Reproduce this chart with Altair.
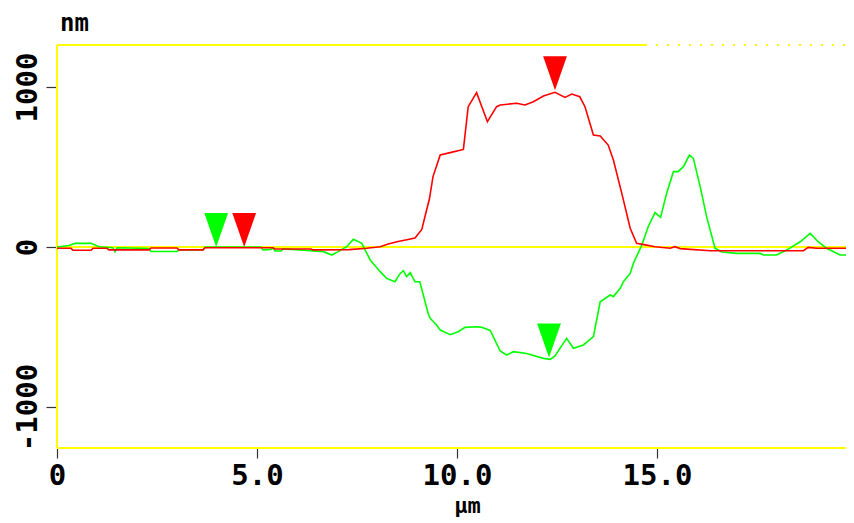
import altair as alt
import pandas as pd

# ---------------- data ----------------
red_x = [0.0, 0.35, 0.4, 0.85, 0.9, 1.25, 1.3, 2.3, 2.35, 3.0, 3.05, 3.65, 3.7, 5.4, 5.45,
         6.35, 6.4, 7.3, 7.74, 8.08, 8.28, 8.5, 8.95, 9.12, 9.24, 9.31, 9.4, 9.58, 9.83,
         10.16, 10.28, 10.49, 10.76, 10.99, 11.08, 11.49, 11.7, 11.91, 12.16, 12.45, 12.7,
         12.87, 13.07, 13.2, 13.41, 13.58, 13.78, 13.91, 14.12, 14.33, 14.49, 14.74, 14.95,
         15.33, 15.45, 15.58, 16.33, 18.66, 18.78, 18.99, 19.74, 19.92]
red_y = [-8, -8, -20, -20, -8, -8, -18, -18, -6, -6, -18, -18, -5, -5, -12,
         -12, -18, -16, -8, 2, 19, 33, 56, 110, 231, 300, 440, 575, 590,
         610, 877, 965, 783, 877, 888, 898, 888, 908, 944, 967, 935,
         956, 939, 877, 700, 694, 637, 544, 335, 117, 23, 12, 2,
         -8, 2, -10, -23, -23, -2, -8, -8, -19]

green_x = [0.0, 0.3, 0.45, 0.85, 1.05, 1.4, 1.45, 1.5, 2.05, 2.3, 2.35, 3.0, 3.05, 3.65,
           3.7, 5.1, 5.15, 5.35, 5.4, 5.45, 5.6, 5.65, 6.07, 6.66, 6.87, 7.03, 7.24, 7.41,
           7.62, 7.83, 8.08, 8.24, 8.45, 8.58, 8.66, 8.74, 8.83, 8.95, 9.07, 9.28, 9.33,
           9.49, 9.58, 9.83, 10.03, 10.2, 10.49, 10.62, 10.83, 11.08, 11.24, 11.41, 11.74,
           12.16, 12.33, 12.45, 12.74, 12.91, 13.16, 13.41, 13.58, 13.83, 13.91, 14.08,
           14.16, 14.33, 14.41, 14.62, 14.78, 14.95, 15.09, 15.24, 15.41, 15.53, 15.66,
           15.81, 15.91, 16.08, 16.24, 16.45, 16.62, 16.99, 17.58, 17.66, 17.99, 18.24,
           18.58, 18.83, 19.03, 19.24, 19.58, 19.92]
green_y = [0, 10, 23, 23, 2, -5, -29, -5, -8, -10, -28, -28, -18, -18,
           0, 0, -18, -15, -5, -25, -25, -12, -19, -29, -50, -29, 2, 48,
           23, -81, -154, -196, -217, -165, -148, -185, -160, -217, -217, -415, -446,
           -487, -519, -548, -529, -502, -498, -502, -521, -650, -675, -654, -665,
           -696, -702, -681, -571, -633, -612, -560, -342, -300, -310, -258,
           -217, -165, -102, 12, 127, 215, 185, 335, 471, 471, 502,
           575, 554, 377, 190, -8, -31, -40, -40, -50, -50, -19,
           33, 85, 33, -8, -50, -50]

marker_x = [3.98, 4.68, 12.45, 12.30]
marker_y = [0, 0, 980, -690]
marker_series = ["green", "red", "red", "green"]

x_ticks = [0, 5, 10, 15]
y_ticks = [-1000, 0, 1000]

X_MAX = 19.725
Y_MIN = -1256
Y_MAX = 1262.5
TOP_SOLID_END = 14.7

# ---------------- tables ----------------
red_df = pd.DataFrame({"x": red_x, "y": red_y})
green_df = pd.DataFrame({"x": green_x, "y": green_y})
marker_df = pd.DataFrame({"x": marker_x, "y": marker_y, "s": marker_series})
hrule_df = pd.DataFrame({"x": [0, 0, 0], "x2": [X_MAX, X_MAX, TOP_SOLID_END],
                         "y": [0, Y_MIN, Y_MAX]})
hdash_df = pd.DataFrame({"x": [TOP_SOLID_END], "x2": [X_MAX], "y": [Y_MAX]})
vrule_df = pd.DataFrame({"x": [0], "y": [Y_MIN], "y2": [Y_MAX]})

FONT = "DejaVu Sans Mono"
YELLOW = "#ffff00"

xscale = alt.Scale(domain=[0, X_MAX], nice=False, zero=False)
yscale = alt.Scale(domain=[Y_MIN, Y_MAX], nice=False, zero=False)

x_axis = alt.Axis(values=x_ticks, domain=False, grid=False, tickColor="#333333",
                  tickSize=10, tickWidth=1.2, labelFont=FONT, labelFontWeight="bold",
                  labelFontSize=29, labelColor="#000000", labelPadding=3,
                  labelFlush=False, labelOverlap=False,
                  labelExpr="datum.value == 0 ? '0' : format(datum.value, '.1f')",
                  title="µm", titleFont=FONT, titleFontWeight="bold", titleFontSize=22,
                  titleColor="#000000", titleX=410, titleY=64, titleAlign="center",
                  titleBaseline="alphabetic")
y_axis = alt.Axis(values=y_ticks, domain=False, grid=False, tickColor="#333333",
                  tickSize=11, tickWidth=1.2, labelFont=FONT, labelFontWeight="bold",
                  labelFontSize=29, labelColor="#000000", labelPadding=10,
                  labelAngle=270, labelAlign="center", labelBaseline="alphabetic",
                  labelOverlap=False, labelFlush=False,
                  labelExpr="datum.value < 0 ? '-' + abs(datum.value) : '' + datum.value",
                  title="nm", titleFont=FONT, titleFontWeight="bold", titleFontSize=24,
                  titleColor="#000000", titleAngle=0, titleX=17, titleY=-15,
                  titleAlign="center", titleBaseline="alphabetic")

X = alt.X("x:Q", scale=xscale, axis=x_axis)
Y = alt.Y("y:Q", scale=yscale, axis=y_axis)

hrules = alt.Chart(hrule_df).mark_rule(color=YELLOW, strokeWidth=2).encode(
    x=X, x2="x2:Q", y=Y)
hdash = alt.Chart(hdash_df).mark_rule(color=YELLOW, strokeWidth=2,
                                      strokeDash=[2, 9]).encode(x=X, x2="x2:Q", y=Y)
vrule = alt.Chart(vrule_df).mark_rule(color=YELLOW, strokeWidth=2).encode(
    x=X, y=Y, y2="y2:Q")

green_line = alt.Chart(green_df).mark_line(color="#00ff00", strokeWidth=1.6,
                                           clip=True).encode(x=X, y=Y)
red_line = alt.Chart(red_df).mark_line(color="#ff0000", strokeWidth=1.6,
                                       clip=True).encode(x=X, y=Y)

markers = alt.Chart(marker_df).mark_point(
    shape="M-0.7,-2L0.7,-2L0,0Z", size=1156, filled=True, opacity=1, strokeWidth=0
).encode(
    x=X, y=Y,
    color=alt.Color("s:N", scale=alt.Scale(domain=["green", "red"],
                                           range=["#00ff00", "#ff0000"]), legend=None),
)

chart = alt.layer(hrules, hdash, vrule, green_line, red_line, markers).properties(
    width=789, height=403,
    autosize=alt.AutoSizeParams(type="none"),
    padding={"left": 49, "top": 37, "right": 0, "bottom": 70},
    background="#ffffff",
).configure_view(stroke=None)

chart.save("out.html", embed_options={"renderer": "svg", "actions": False})
